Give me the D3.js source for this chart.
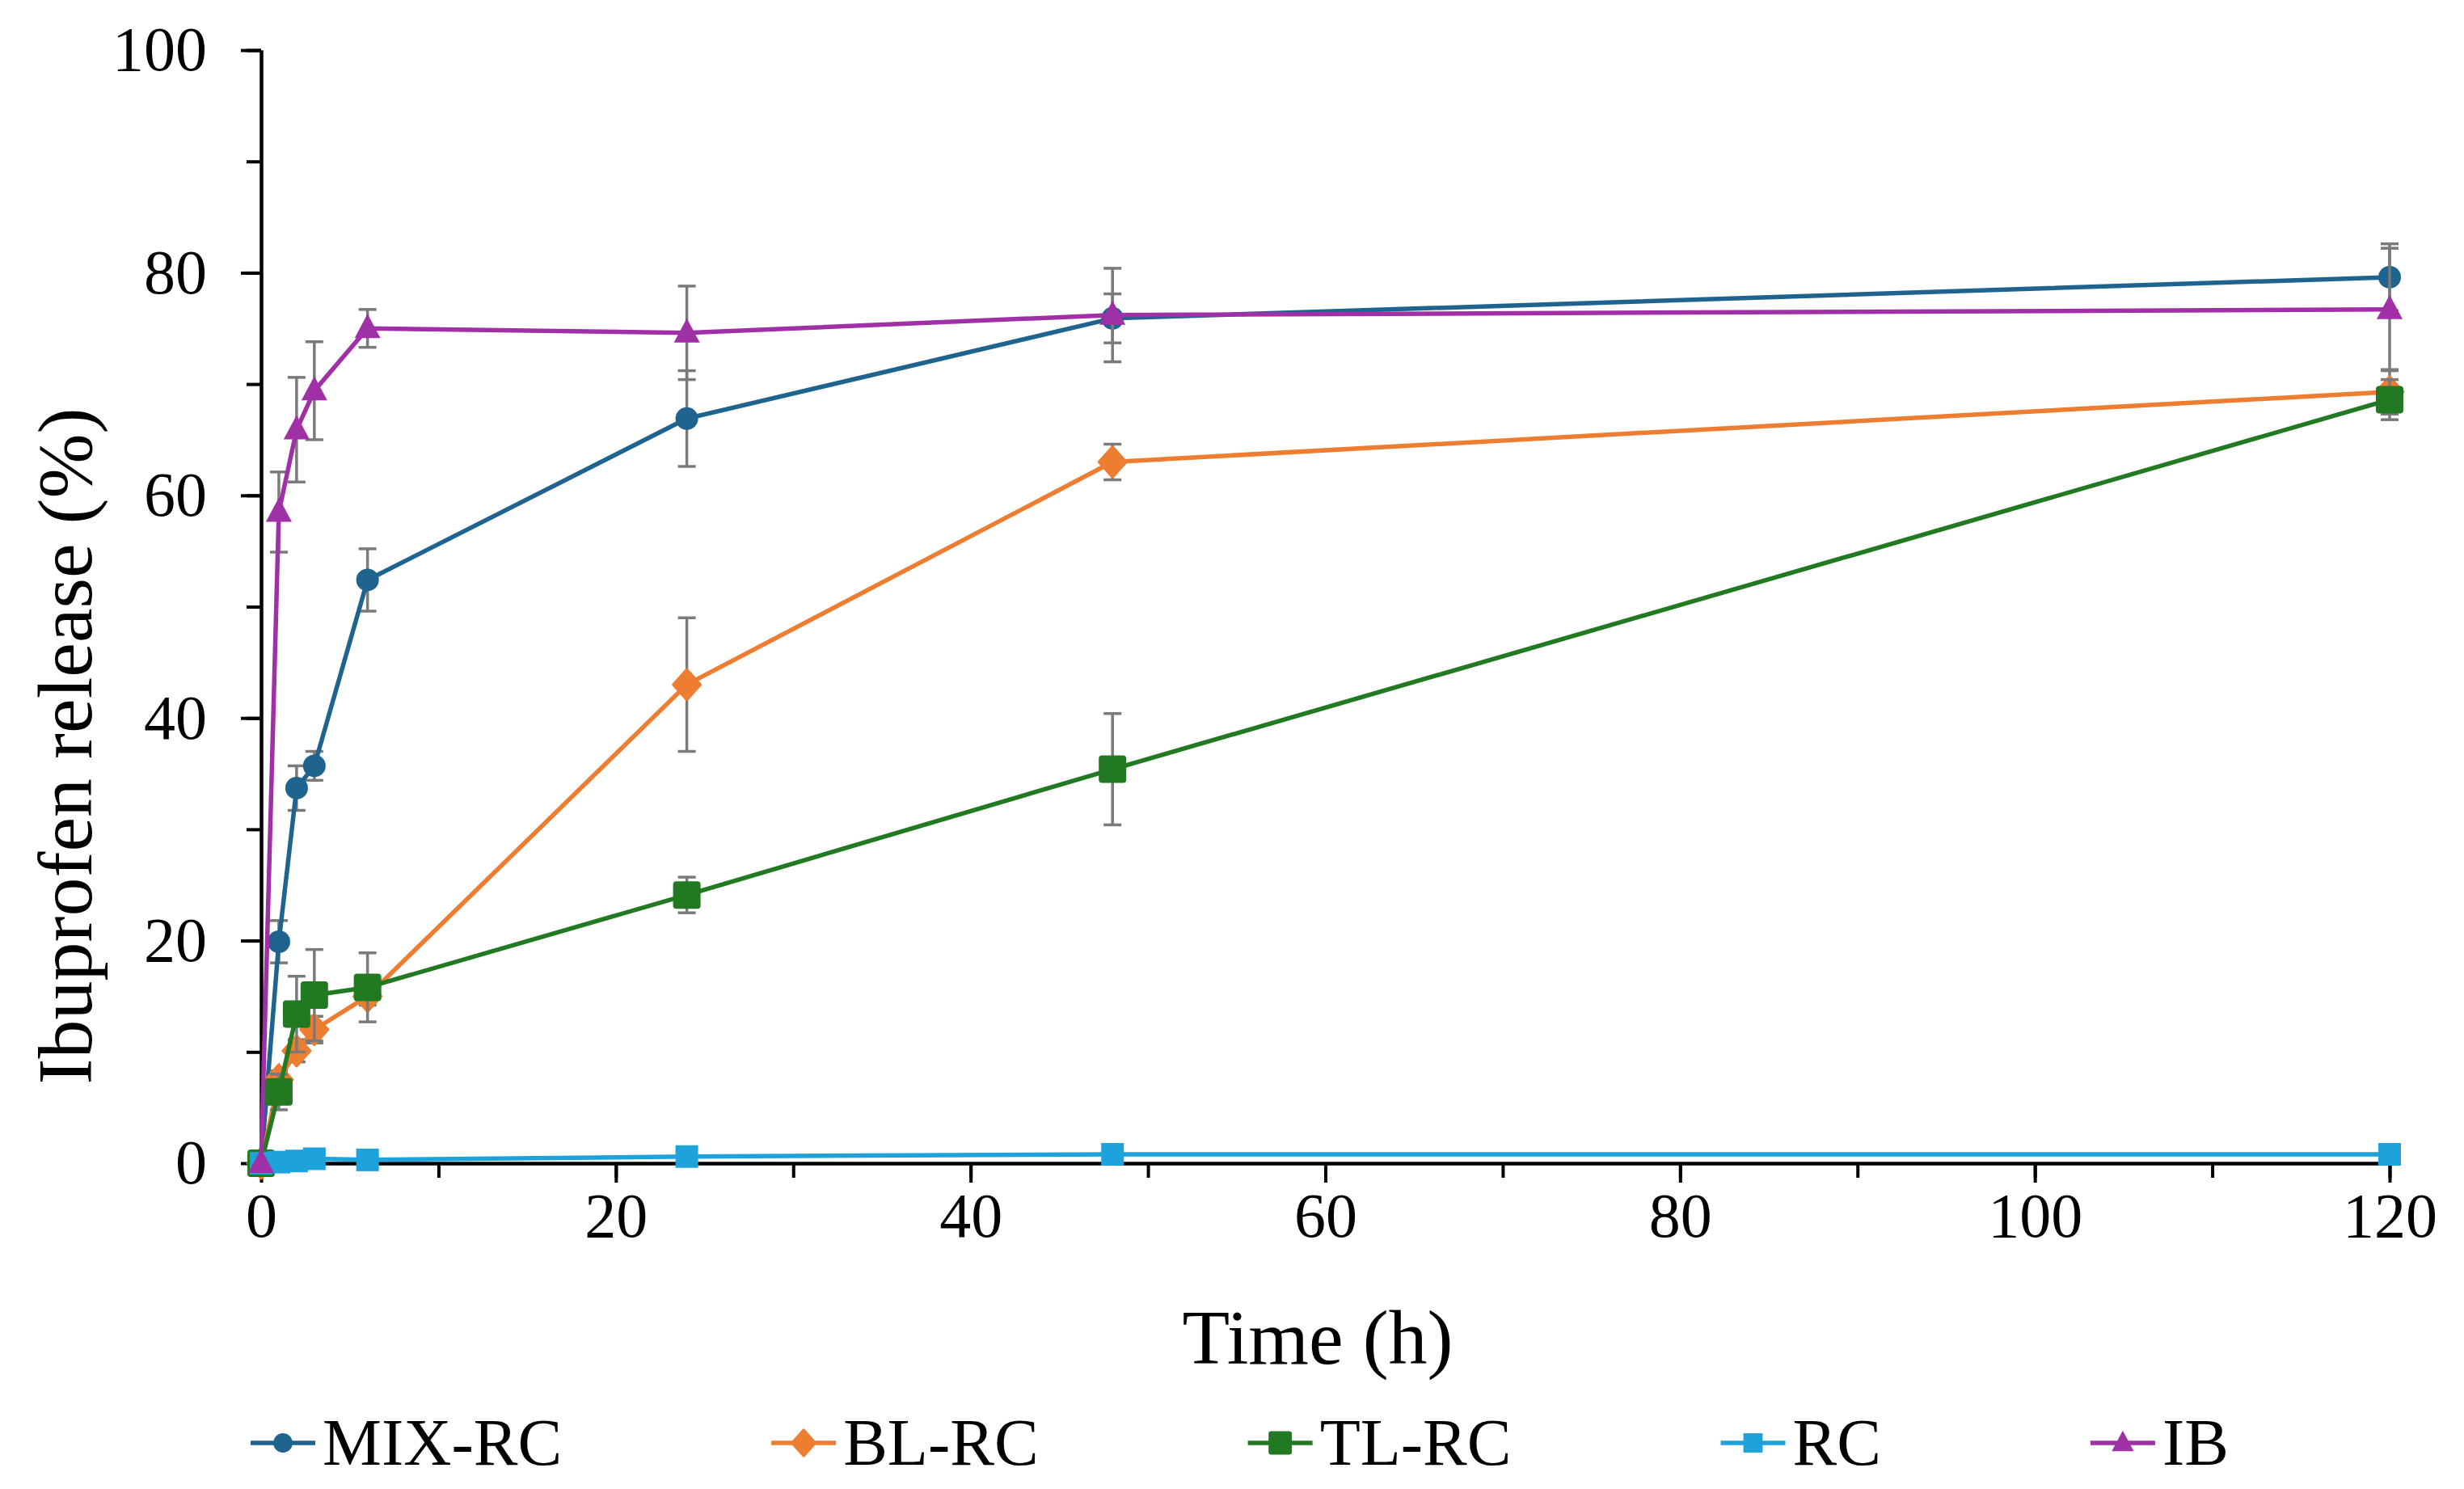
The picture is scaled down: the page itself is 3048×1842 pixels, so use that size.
<!DOCTYPE html>
<html>
<head>
<meta charset="utf-8">
<script src="https://cdn.jsdelivr.net/npm/d3@7"></script>
<style>
  body { margin: 0; background: #fff; }
  svg { display: block; }
</style>
</head>
<body>
<svg id="chart" width="3048" height="1842"></svg>
<script>
// sampling times (h)
const time = [0, 1, 2, 3, 6, 24, 48, 120];

const mixRC    = [0, 19.9, 33.7, 35.7, 52.4, 66.9, 75.9, 79.6];
const mixRCErr = [0, 1.9, 2.0, 1.3, 2.8, 4.3, 2.2, 3.0];
const blRC     = [0, 7.5, 10.1, 12.0, 15.0, 43.0, 63.0, 69.3];
const blRCErr  = [0, 0.8, 1.0, 1.2, 0.8, 6.0, 1.6, 2.0];
const tlRC     = [0, 6.4, 13.4, 15.1, 15.8, 24.1, 35.4, 68.6];
const tlRCErr  = [0, 1.6, 3.4, 4.1, 3.1, 1.6, 5.0, 1.8];
const rc       = [0, 0.1, 0.2, 0.4, 0.3, 0.6, 0.8, 0.8];
const rcErr    = [0, 0.1, 0.1, 0.1, 0.1, 0.2, 0.2, 0.2];
const ib       = [0, 58.5, 65.9, 69.4, 75.0, 74.6, 76.2, 76.7];
const ibErr    = [0, 3.6, 4.7, 4.4, 1.7, 4.2, 4.2, 5.5];

const seriesNames = ["MIX-RC", "BL-RC", "TL-RC", "RC", "IB"];
const xTicks = [0, 20, 40, 60, 80, 100, 120];
const yTicks = [0, 20, 40, 60, 80, 100];

const series = [
  { name: seriesNames[0], values: mixRC, err: mixRCErr, color: "#1f638f", shape: "circle" },
  { name: seriesNames[1], values: blRC,  err: blRCErr,  color: "#ed7d31", shape: "diamond" },
  { name: seriesNames[2], values: tlRC,  err: tlRCErr,  color: "#217a21", shape: "square" },
  { name: seriesNames[3], values: rc,    err: rcErr,    color: "#1ea2dc", shape: "smallsquare" },
  { name: seriesNames[4], values: ib,    err: ibErr,    color: "#a030a6", shape: "triangle" }
];

const font = "'Liberation Serif', 'Times New Roman', serif";
const svg = d3.select("#chart");
svg.append("rect").attr("width", 3048).attr("height", 1842).attr("fill", "#fff");

const x = d3.scaleLinear().domain([0, 120]).range([323, 2956]);
const y = d3.scaleLinear().domain([0, 100]).range([1439, 62]);

// minor ticks first, then major ticks with labels
const yMinor = svg.append("g").attr("transform", `translate(${x(0)},0)`)
  .call(d3.axisLeft(y).tickValues(d3.range(0, 101, 10)).tickSize(18).tickSizeOuter(0).tickFormat(""));
const yMajor = svg.append("g").attr("transform", `translate(${x(0)},0)`)
  .call(d3.axisLeft(y).tickValues(yTicks).tickSize(25).tickSizeOuter(0).tickPadding(42));
const xMinor = svg.append("g").attr("transform", `translate(0,${y(0)})`)
  .call(d3.axisBottom(x).tickValues(d3.range(0, 121, 10)).tickSize(18).tickSizeOuter(0).tickFormat(""));
const xMajor = svg.append("g").attr("transform", `translate(0,${y(0)})`)
  .call(d3.axisBottom(x).tickValues(xTicks).tickSize(24).tickSizeOuter(0).tickPadding(12));

[yMinor, yMajor, xMinor, xMajor].forEach(g => {
  g.selectAll("path, line").attr("stroke", "#000").attr("stroke-width", 4);
  g.selectAll("text").attr("fill", "#000").style("font-family", font).style("font-size", "78px");
});

// axis titles
svg.append("text")
  .attr("transform", "translate(113,923) rotate(-90)")
  .attr("text-anchor", "middle")
  .style("font-family", font).style("font-size", "96px")
  .text("Ibuprofen release (%)");

svg.append("text")
  .attr("x", 1630).attr("y", 1687)
  .attr("text-anchor", "middle")
  .style("font-family", font).style("font-size", "96px")
  .text("Time (h)");

function drawMarker(g, shape, color, k) {
  if (shape === "circle") {
    g.append("circle").attr("r", 14 * k).attr("fill", color);
  } else if (shape === "diamond") {
    g.append("path").attr("d", `M0,${-19 * k}L${17 * k},0L0,${19 * k}L${-17 * k},0Z`)
      .attr("fill", color).attr("stroke", color).attr("stroke-width", 3).attr("stroke-linejoin", "round");
  } else if (shape === "square") {
    g.append("rect").attr("x", -17 * k).attr("y", -17 * k).attr("width", 34 * k).attr("height", 34 * k)
      .attr("rx", 4 * k).attr("fill", color);
  } else if (shape === "smallsquare") {
    g.append("rect").attr("x", -14 * k).attr("y", -14 * k).attr("width", 28 * k).attr("height", 28 * k).attr("fill", color);
  } else {
    g.append("path").attr("d", `M0,${-18 * k}L${16 * k},${12 * k}L${-16 * k},${12 * k}Z`).attr("fill", color);
  }
}

const line = d3.line().x(d => x(d.t)).y(d => y(d.v));

series.forEach(s => {
  const pts = time.map((t, i) => ({ t: t, v: s.values[i], e: s.err[i] }));
  const g = svg.append("g");

  const eb = g.append("g").selectAll("g").data(pts.filter(d => d.e > 0)).enter().append("g")
    .attr("stroke", "#7a7a7a").attr("stroke-width", 3.5);
  eb.append("line")
    .attr("x1", d => x(d.t)).attr("x2", d => x(d.t))
    .attr("y1", d => y(d.v + d.e)).attr("y2", d => y(d.v - d.e));
  eb.append("line")
    .attr("x1", d => x(d.t) - 11).attr("x2", d => x(d.t) + 11)
    .attr("y1", d => y(d.v + d.e)).attr("y2", d => y(d.v + d.e));
  eb.append("line")
    .attr("x1", d => x(d.t) - 11).attr("x2", d => x(d.t) + 11)
    .attr("y1", d => y(d.v - d.e)).attr("y2", d => y(d.v - d.e));

  g.append("path").datum(pts)
    .attr("d", line)
    .attr("fill", "none")
    .attr("stroke", s.color)
    .attr("stroke-width", 5.5)
    .attr("stroke-linejoin", "round");

  g.selectAll(".mk").data(pts).enter().append("g")
    .attr("class", "mk")
    .attr("transform", d => `translate(${x(d.t)},${y(d.v)})`)
    .each(function () { drawMarker(d3.select(this), s.shape, s.color, 1); });
});

// legend
let lx = 310;
const ly = 1785;
series.forEach(s => {
  const lg = svg.append("g").attr("transform", `translate(${lx},${ly})`);
  lg.append("line").attr("x1", 0).attr("x2", 80).attr("y1", 0).attr("y2", 0)
    .attr("stroke", s.color).attr("stroke-width", 5.5);
  const m = lg.append("g").attr("transform", "translate(40,0)");
  drawMarker(m, s.shape, s.color, 0.85);
  const t = lg.append("text")
    .attr("x", 89).attr("y", 27)
    .style("font-family", font).style("font-size", "82px")
    .text(s.name);
  lx += 89 + t.node().getComputedTextLength() + 259;
});
</script>
</body>
</html>
